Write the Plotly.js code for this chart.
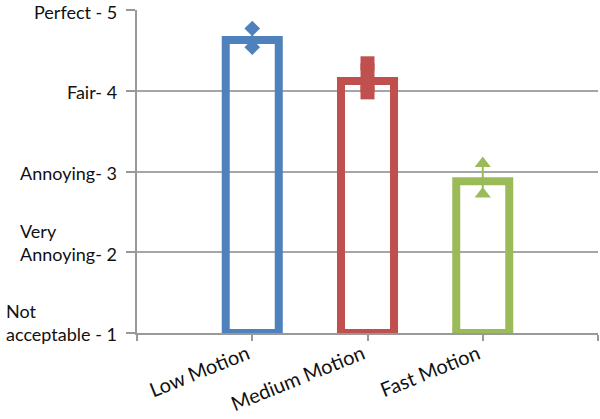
<!DOCTYPE html>
<html>
<head>
<meta charset="utf-8">
<script src="https://cdn.plot.ly/plotly-3.0.1.min.js"></script>
<style>html,body{margin:0;padding:0;background:#fff;}#chart{width:600px;height:419px;}</style>
</head>
<body>
<div id="chart"></div>
<script>
// Data
const categories = ['Low Motion', 'Medium Motion', 'Fast Motion'];
const catPos = [1, 2, 3];
const meanScores = [4.63, 4.12, 2.88];
const upperMarks = [4.77, 4.34, 3.10];
const lowerMarks = [4.54, 3.98, 2.72];
const colors = ['#4F81BD', '#C0504D', '#9BBB59'];
const symbols = ['diamond', 'square', 'triangle-up'];
const markerSizes = [12, 14, 14];
const linkWidths = [2, 14, 2];
const yTickVals = [1, 2, 3, 4, 5];
const yTickText = ['Not<br>acceptable - 1', 'Very<br>Annoying- 2', 'Annoying- 3', 'Fair- 4', 'Perfect - 5'];
const baseScore = 1;

const FONT = 'Lato, "Open Sans", sans-serif';
const Y_FONT_SIZE = 18;
const LINE_H = Y_FONT_SIZE * 1.3;

const traces = [];
traces.push({
  type: 'bar',
  x: catPos,
  y: meanScores.map(v => v - baseScore),
  base: baseScore,
  width: 0.46,
  marker: {color: 'rgba(255,255,255,0)', line: {color: colors, width: 8}},
  hoverinfo: 'skip',
  showlegend: false
});
for (let i = 0; i < categories.length; i++) {
  traces.push({
    type: 'scatter',
    mode: 'lines+markers',
    x: [catPos[i], catPos[i]],
    y: [lowerMarks[i], upperMarks[i]],
    line: {color: colors[i], width: linkWidths[i]},
    marker: {symbol: symbols[i], size: markerSizes[i], color: colors[i]},
    showlegend: false,
    cliponaxis: false
  });
}

const annotations = yTickVals.map((v, i) => {
  const nLines = yTickText[i].split('<br>').length;
  return {
    xref: 'paper', yref: 'y', x: 0, y: v,
    xanchor: 'right', yanchor: 'middle', align: 'left',
    borderpad: 0,
    xshift: -19, yshift: (nLines - 1) * LINE_H / 2 - 1.5,
    text: yTickText[i], showarrow: false,
    font: {family: FONT, size: Y_FONT_SIZE, color: '#111'}
  };
});

const layout = {
  width: 600, height: 419,
  margin: {l: 137, r: 2, t: 10, b: 86},
  paper_bgcolor: '#fff', plot_bgcolor: '#fff',
  showlegend: false,
  bargap: 0,
  xaxis: {
    range: [0, 4],
    tickvals: [0].concat(catPos).concat([4]),
    ticktext: [''].concat(categories).concat(['']),
    tickangle: -22,
    ticklabelstandoff: -6,
    ticklabelshift: -5,
    ticks: 'outside', ticklen: 6, tickwidth: 2, tickcolor: '#999',
    showgrid: false, zeroline: false,
    showline: true, linecolor: '#999', linewidth: 2,
    tickfont: {family: FONT, size: 20, color: '#111'},
    fixedrange: true
  },
  yaxis: {
    range: [1, 5],
    tickvals: yTickVals,
    showticklabels: false,
    ticks: 'outside', ticklen: 9, tickwidth: 2, tickcolor: '#999',
    showgrid: true, gridcolor: '#A6A6A6', gridwidth: 2,
    zeroline: false,
    showline: true, linecolor: '#999', linewidth: 2,
    fixedrange: true
  },
  annotations: annotations
};

Plotly.newPlot('chart', traces, layout, {displayModeBar: false, staticPlot: true});
</script>
</body>
</html>
